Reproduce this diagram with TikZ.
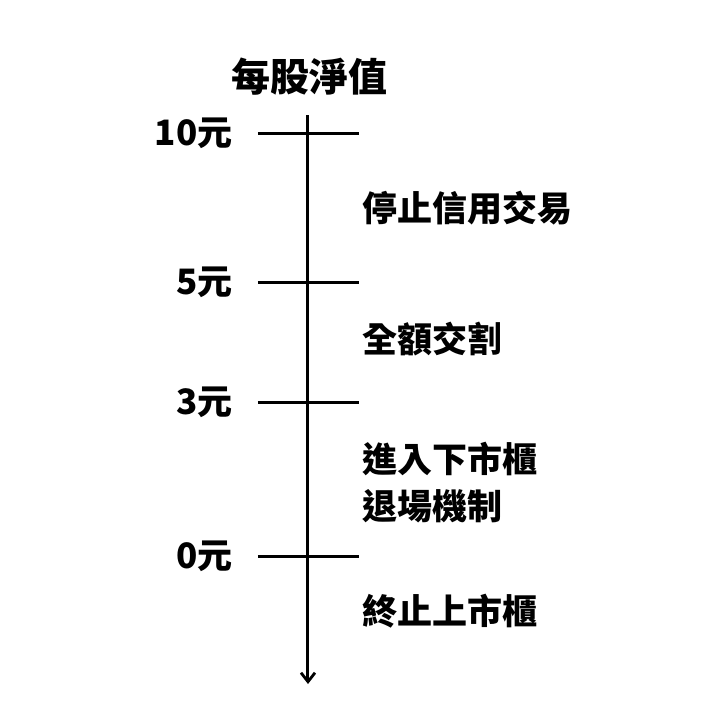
\documentclass[tikz,border=0pt]{standalone}
\usepackage{fontspec}
\setmainfont{Noto Sans CJK TC}
\usepackage{tikz}
\usetikzlibrary{arrows.meta,positioning}
\tikzset{
  axisline/.style={line width=1.5pt,-{Straight Barb[length=4.5pt,width=7pt,line width=1.4pt]}},
  tickline/.style={line width=1.5pt},
  price/.style={font=\fontsize{17.5}{20}\selectfont\bfseries,inner sep=0pt,anchor=east},
  stage/.style={font=\fontsize{17.5}{23.5}\selectfont\bfseries,inner sep=0pt,anchor=west,align=left},
}
\begin{document}
\begin{tikzpicture}[x=0.5pt,y=-0.5pt]
\useasboundingbox (0,0) rectangle (720,720);
\node [font=\fontsize{19.5}{22}\selectfont\bfseries,inner sep=0pt] (title) at (310,77) {每股淨值};
\coordinate (top) at (308,115);
\coordinate (bottom) at (308,684);
\draw [axisline] (top) -- (bottom);
% price ticks
\foreach \y/\name/\lab in {133/t10/10元, 282/t5/5元, 402/t3/3元, 556/t0/0元}{
  \coordinate (\name l) at (258,\y);
  \coordinate (\name r) at (359,\y);
  \draw [tickline] (\name l) -- (\name r);
  \node [price] (\name lab) at (233,\y) {\lab};
}
% stages
\node [stage] (credit) at (362,208) {停止信用交易};
\node [stage] (full) at (362,339) {全額交割};
\node [stage] (delist) at (362,483) {進入下市櫃\\退場機制};
\node [stage] (stop) at (362,611) {終止上市櫃};
\end{tikzpicture}
\end{document}
